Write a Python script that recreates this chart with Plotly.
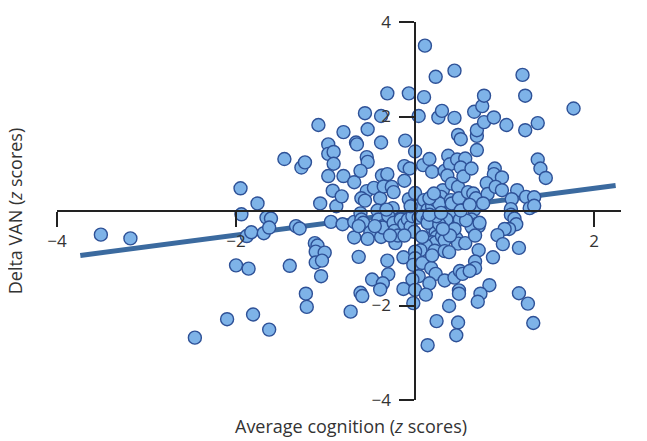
import plotly.graph_objects as go

# Average cognition (z scores)
cog = [
 -3.51,-3.18,-2.46,-2.10,-1.81,-1.63,-2.00,-1.86,-1.95,-1.94,-1.76,-1.88,-1.83,-1.69,-1.66,-1.61,-1.63,
 -1.46,-1.40,-1.27,-1.23,-1.33,-1.29,-1.22,-1.21,-1.12,-1.09,-1.11,-1.01,-1.11,-1.04,-1.05,-1.08,-1.06,
 -0.97,-0.97,-0.91,-0.91,-0.97,-0.92,-0.88,-0.82,-0.94,-0.81,-0.80,-0.80,-0.68,-0.66,-0.65,-0.68,-0.68,
 -0.63,-0.72,-0.61,-0.59,-0.56,-0.53,-0.54,-0.53,-0.61,-0.54,-0.60,-0.56,-0.61,-0.60,-0.58,-0.63,-0.50,
 -0.53,-0.48,-0.46,-0.38,-0.31,-0.38,-0.37,-0.31,-0.39,-0.42,-0.41,-0.36,-0.38,-0.36,-0.31,-0.30,-0.36,
 -0.39,-0.35,-0.26,-0.24,-0.25,-0.30,-0.24,-0.23,-0.22,-0.19,-0.13,-0.13,-0.11,-0.07,-0.12,-0.06,-0.12,
 -0.07,-0.16,-0.12,-0.08,-0.05,-0.01,0.00,0.00,0.03,-0.03,0.04,0.04,0.10,0.11,0.23,0.26,0.30,0.44,0.44,
 0.09,0.16,0.19,0.10,0.14,0.19,0.08,0.14,0.19,0.24,0.23,0.24,0.19,0.23,0.12,0.06,0.22,0.00,0.00,-0.02,
 0.08,0.18,0.23,0.04,-0.03,0.16,0.00,0.12,-0.02,0.24,0.14,0.33,0.38,0.44,0.50,0.53,0.49,0.49,0.48,0.46,
 0.30,0.33,0.46,0.48,0.56,0.37,0.39,0.50,0.35,0.31,0.29,0.23,0.27,0.40,0.41,0.33,0.37,0.39,0.36,0.41,
 0.47,0.48,0.49,0.48,0.51,0.56,0.51,0.54,0.63,0.59,0.65,0.68,0.66,0.69,0.69,0.69,0.66,0.75,0.77,0.77,
 0.88,1.02,1.20,1.23,1.23,1.37,1.77,1.37,1.40,1.46,0.89,0.88,0.97,0.80,0.81,0.90,0.97,1.14,1.08,1.24,
 1.33,1.28,1.33,1.07,1.07,1.11,1.13,1.05,1.00,0.92,0.98,1.16,0.87,0.71,0.67,0.67,0.61,0.83,0.73,0.70,
 1.16,1.26,1.32,0.63,0.65,0.69,0.71,0.63,0.57,0.51,0.33,0.38,0.19,0.67,0.72,0.14,0.08,0.27,0.24,0.16,
 -0.12,0.16,0.21,0.29,0.44,0.39,0.31,-0.05,-0.32,-0.45,-0.28,0.61,0.76,
]

# Delta VAN (z scores)
van = [
 -0.50,-0.58,-2.68,-2.29,-2.19,-2.51,-1.15,-1.22,0.48,-0.07,0.16,-0.53,-0.45,-0.47,-0.14,-0.16,-0.35,
 1.10,-1.16,0.92,1.03,-0.32,-0.37,-1.75,-2.03,-0.68,-0.73,-0.86,-0.88,-1.09,-1.05,-1.38,1.82,0.16,
 1.41,1.21,1.25,1.00,0.74,0.43,0.10,0.31,-0.23,-0.28,1.67,0.74,0.61,1.45,1.41,-0.23,-0.56,
 -0.97,-2.13,-1.73,-1.80,2.07,1.73,1.14,1.04,0.85,0.42,0.27,0.22,-0.05,-0.18,-0.25,-0.32,-0.45,
 -0.59,-1.45,0.49,2.01,2.49,1.45,0.75,0.78,0.27,0.01,-0.18,-0.32,-0.55,-0.35,-1.05,-1.34,-1.53,
 -1.66,0.52,0.51,0.40,0.06,-0.10,-0.25,-0.42,-0.68,-0.52,-0.98,-1.65,1.49,2.49,0.95,0.90,0.64,
 0.25,-0.18,-0.28,-0.18,-0.33,-0.44,1.26,0.38,0.10,-0.11,-0.14,2.01,2.41,3.50,2.84,1.98,2.12,2.97,1.97,
 0.97,1.10,0.83,0.23,0.03,0.10,-0.11,-0.18,-0.35,-0.32,-0.45,-0.55,-0.66,-0.67,-0.73,-0.83,-0.84,-0.86,-1.00,-1.14,
 -1.10,-1.21,-1.33,-1.38,-1.45,-1.53,-1.67,-1.77,-1.95,-2.33,-2.84,-1.47,-2.01,-1.41,-1.27,-1.33,-1.68,-1.75,-2.36,-2.63,
 -0.53,-0.62,-0.58,-0.69,-0.68,-0.25,-0.04,-0.18,-0.18,0.44,0.30,0.23,0.16,0.23,0.16,0.85,1.17,0.99,0.75,0.58,
 1.09,0.51,0.27,1.61,1.52,1.11,0.92,0.73,0.90,0.40,0.37,0.27,0.03,1.29,1.59,1.71,2.10,2.22,2.44,1.88,
 1.98,1.82,2.88,2.44,1.71,1.86,2.17,1.09,0.90,0.70,0.90,0.78,0.71,0.59,0.36,0.51,0.44,0.44,0.25,0.30,
 0.29,0.06,0.11,0.04,-0.08,-0.16,-0.28,-0.38,-0.38,-0.51,-0.70,-0.78,-0.98,-0.83,-1.07,-1.21,-1.27,-1.57,-1.75,-1.92,
 -1.74,-1.96,-2.37,-0.18,-0.38,-0.28,-0.32,-0.33,-0.20,0.01,-0.85,-0.87,-0.94,-0.52,-0.25,-0.25,-0.55,-0.28,-0.11,-0.08,
 -0.52,0.27,0.37,-0.04,-0.38,-0.52,-0.38,0.10,0.03,-0.32,-0.52,0.13,0.16,
]

# Regression line end points
fit_x = [-3.74, 2.24]
fit_y = [-0.94, 0.54]

x_ticks = [-4, -2, 2]
x_tick_text = ["\u22124", "\u22122", "2"]
y_ticks = [-4, -2, 2, 4]
y_tick_text = ["\u22124", "\u22122", "2", "4"]

x_range = [-4, 2.3]
y_range = [-4, 4]

fig = go.Figure()
fig.add_trace(go.Scatter(x=fit_x, y=fit_y, mode="lines",
                         line=dict(color="#3B6A9F", width=5), hoverinfo="skip"))
fig.add_trace(go.Scatter(x=cog, y=van, mode="markers",
                         marker=dict(size=13, color="#7EB3E8",
                                     line=dict(color="#2E5197", width=1.4))))

tickfont = dict(family="Open Sans", size=17, color="#333333")
fig.update_layout(
    width=647, height=441,
    margin=dict(l=49, r=34, t=2, b=49),
    paper_bgcolor="white", plot_bgcolor="white",
    showlegend=False,
    xaxis=dict(range=x_range, anchor="free", position=0.5,
               showline=True, linecolor="#222222", linewidth=1.5,
               showgrid=False, zeroline=False,
               ticks="outside", ticklen=15, tickwidth=1.5, tickcolor="#222222",
               tickvals=x_ticks, ticktext=x_tick_text, tickfont=tickfont,
               ticklabeloverflow="allow"),
    yaxis=dict(range=y_range, anchor="free", position=4 / 6.3,
               showline=True, linecolor="#222222", linewidth=1.5,
               showgrid=False, zeroline=False,
               ticks="outside", ticklen=15, tickwidth=1.5, tickcolor="#222222",
               tickvals=y_ticks, ticktext=y_tick_text, tickfont=tickfont,
               ticklabelstandoff=5, ticklabeloverflow="allow"),
    annotations=[
        dict(text="Average cognition (<i>z</i> scores)", xref="paper", yref="paper",
             x=0.521, y=-0.069, xanchor="center", yanchor="middle", showarrow=False,
             font=dict(family="Open Sans", size=18, color="#333333")),
        dict(text="Delta VAN (<i>z</i> scores)", xref="paper", yref="paper",
             x=-0.074, y=0.5, xanchor="center", yanchor="middle", showarrow=False,
             textangle=-90, font=dict(family="Open Sans", size=18, color="#333333")),
    ],
)

fig.write_html("out.html")
